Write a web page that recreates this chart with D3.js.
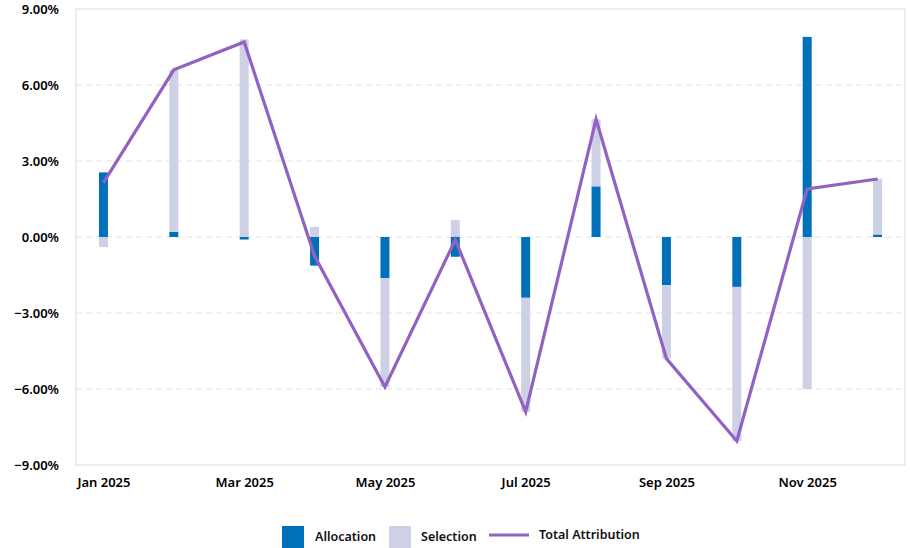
<!DOCTYPE html>
<html><head><meta charset="utf-8">
<script src="https://cdn.jsdelivr.net/npm/d3@7"></script>
<style>body{margin:0;background:#fff;}svg{display:block;font-family:"Noto Sans",sans-serif;}</style>
</head><body><svg id="c" width="910" height="548"></svg>
<script>
const months = ["Jan 2025","Feb 2025","Mar 2025","Apr 2025","May 2025","Jun 2025","Jul 2025","Aug 2025","Sep 2025","Oct 2025","Nov 2025","Dec 2025"];
const allocation = [2.55, 0.2, -0.1, -1.13, -1.62, -0.78, -2.4, 2.0, -1.9, -1.97, 7.9, 0.1];
const selection  = [-0.4, 6.4, 7.8, 0.4, -4.3, 0.67, -4.5, 2.65, -2.9, -6.08, -6.0, 2.2];
const totalAttribution = [2.15, 6.6, 7.7, -0.75, -5.92, -0.11, -6.9, 4.65, -4.8, -8.05, 1.9, 2.29];
const yTicks = [-9, -6, -3, 0, 3, 6, 9];
const xTickLabels = ["Jan 2025","Mar 2025","May 2025","Jul 2025","Sep 2025","Nov 2025"];
const legendLabels = ["Allocation", "Selection", "Total Attribution"];

const colors = {alloc:"#0070bb", sel:"#ced0e5", line:"#9262c2"};
const svg = d3.select("#c");
const mLeft = 76, mRight = 905, mTop = 9, mBottom = 465;
const x = d3.scalePoint().domain(months).range([mLeft, mRight]).padding(0.39);
const y = d3.scaleLinear().domain([-9, 9]).range([mBottom, mTop]);

// frame
svg.append("rect").attr("x", mLeft).attr("y", mTop).attr("width", mRight-mLeft).attr("height", mBottom-mTop)
  .attr("fill","none").attr("stroke","#e6e6e6").attr("stroke-width",1.5);
// grid
svg.append("g").selectAll("line").data(yTicks.filter(d => d > -9 && d < 9)).join("line")
  .attr("x1", mLeft).attr("x2", mRight).attr("y1", d => y(d)).attr("y2", d => y(d))
  .attr("stroke","#e3e3e3").attr("stroke-width",1.2).attr("stroke-dasharray","6,4");

const fontStyle = g => g.selectAll("text").attr("font-size", 13).attr("font-weight", 600).attr("fill","#000").attr("font-family","'Noto Sans',sans-serif");
// y axis
const yAxis = d3.axisLeft(y).tickValues(yTicks).tickFormat(d => d3.format(".2f")(d) + "%").tickSize(0).tickPadding(17);
const gy = svg.append("g").attr("transform", `translate(${mLeft},0)`).call(yAxis);
gy.select(".domain").remove();
fontStyle(gy);

// x axis
const xAxis = d3.axisBottom(x).tickValues(xTickLabels).tickSize(0).tickPadding(13);
const gx = svg.append("g").attr("transform", `translate(0,${mBottom})`).call(xAxis);
gx.select(".domain").remove();
fontStyle(gx);

// stacked bars (diverging)
const bw = 9;
const rows = months.map((m, i) => {
  const a = allocation[i], s = selection[i];
  let pos = 0, neg = 0;
  const seg = [];
  [[a, colors.alloc], [s, colors.sel]].forEach(([v, c]) => {
    if (v >= 0) { seg.push({y0: pos, y1: pos + v, c}); pos += v; }
    else { seg.push({y0: neg, y1: neg + v, c}); neg += v; }
  });
  return {m, seg};
});
svg.append("g").selectAll("g").data(rows).join("g").each(function(r){
  d3.select(this).selectAll("rect").data(r.seg).join("rect")
    .attr("x", x(r.m) - bw/2).attr("width", bw)
    .attr("y", s => y(Math.max(s.y0, s.y1)))
    .attr("height", s => Math.abs(y(s.y0) - y(s.y1)))
    .attr("fill", s => s.c);
});

// line
const line = d3.line().x((d, i) => x(months[i])).y(d => y(d));
svg.append("path").datum(totalAttribution).attr("d", line)
  .attr("fill","none").attr("stroke", colors.line).attr("stroke-width", 3.2).attr("stroke-linejoin","miter");

// legend
const lg = svg.append("g").attr("font-size", 12.5).attr("font-weight", 600).attr("fill","#111").attr("font-family","'Noto Sans',sans-serif");
lg.append("rect").attr("x",282).attr("y",526).attr("width",22).attr("height",22).attr("fill",colors.alloc);
lg.append("text").attr("x",315).attr("y",541).text(legendLabels[0]);
lg.append("rect").attr("x",389).attr("y",526).attr("width",22).attr("height",22).attr("fill",colors.sel);
lg.append("text").attr("x",421).attr("y",541).text(legendLabels[1]);
lg.append("line").attr("x1",489).attr("x2",529).attr("y1",535).attr("y2",535).attr("stroke",colors.line).attr("stroke-width",3.2);
lg.append("text").attr("x",539).attr("y",539).text(legendLabels[2]);
</script></body></html>
